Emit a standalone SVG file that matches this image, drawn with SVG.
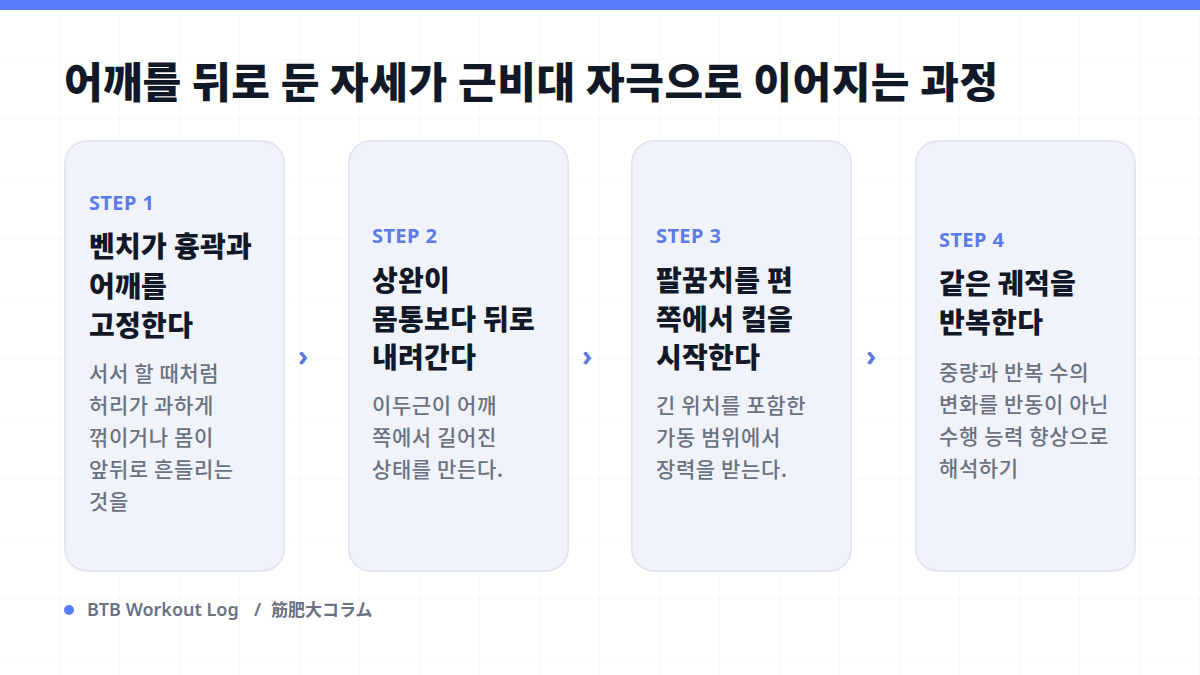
<svg xmlns="http://www.w3.org/2000/svg" width="1200" height="675" viewBox="0 0 1200 675">
<defs>
<pattern id="grid" width="60" height="60" patternUnits="userSpaceOnUse">
<path d="M60 0V60M0 60H60" fill="none" stroke="#f2f3f6" stroke-width="1"/>
</pattern>
<style>
.card{fill:#f1f3fa;stroke:#e2e6f0;stroke-width:2}
.step{font-family:"Noto Sans","Noto Sans CJK KR",sans-serif;font-size:20px;font-weight:700;fill:#5b7be6;letter-spacing:0.4px}
.ttl{font-family:"Noto Sans CJK KR","Noto Sans",sans-serif;font-size:28px;font-weight:800;fill:#111827;letter-spacing:0.3px}
.body{font-family:"Noto Sans CJK KR","Noto Sans",sans-serif;font-size:21px;font-weight:500;fill:#6b7280;letter-spacing:0.6px}
.chev{font-family:"Noto Sans","DejaVu Sans",sans-serif;font-size:28px;font-weight:700;fill:#5b7be6}
.head{font-family:"Noto Sans CJK KR","Noto Sans",sans-serif;font-size:42px;font-weight:900;fill:#111827;letter-spacing:0.6px}
.foot{font-family:"Noto Sans","Noto Sans CJK JP",sans-serif;font-size:18px;font-weight:600;fill:#6b7280}
</style>
</defs>
<rect width="1200" height="675" fill="#ffffff"/>
<rect width="1200" height="675" fill="url(#grid)"/>
<rect x="0" y="0" width="1200" height="10" fill="#5b7cfa"/>
<text class="head" x="64" y="98">어깨를 뒤로 둔 자세가 근비대 자극으로 이어지는 과정</text>

<g id="step1">
<rect class="card" x="65" y="141" width="219" height="430" rx="22"/>
<text class="step" x="89" y="210">STEP 1</text>
<text class="ttl" x="89" y="257">벤치가 흉곽과</text>
<text class="ttl" x="89" y="297">어깨를</text>
<text class="ttl" x="89" y="336">고정한다</text>
<text class="body" x="89" y="381">서서 할 때처럼</text>
<text class="body" x="89" y="413">허리가 과하게</text>
<text class="body" x="89" y="445">꺾이거나 몸이</text>
<text class="body" x="89" y="477">앞뒤로 흔들리는</text>
<text class="body" x="89" y="509">것을</text>
</g>

<g id="step2">
<rect class="card" x="349" y="141" width="219" height="430" rx="22"/>
<text class="step" x="372" y="243">STEP 2</text>
<text class="ttl" x="372" y="291">상완이</text>
<text class="ttl" x="372" y="330">몸통보다 뒤로</text>
<text class="ttl" x="372" y="368">내려간다</text>
<text class="body" x="372" y="413">이두근이 어깨</text>
<text class="body" x="372" y="445">쪽에서 길어진</text>
<text class="body" x="372" y="477">상태를 만든다.</text>
</g>

<g id="step3">
<rect class="card" x="632" y="141" width="219" height="430" rx="22"/>
<text class="step" x="656" y="243">STEP 3</text>
<text class="ttl" x="656" y="291">팔꿈치를 편</text>
<text class="ttl" x="656" y="330">쪽에서 컬을</text>
<text class="ttl" x="656" y="368">시작한다</text>
<text class="body" x="656" y="413">긴 위치를 포함한</text>
<text class="body" x="656" y="445">가동 범위에서</text>
<text class="body" x="656" y="477">장력을 받는다.</text>
</g>

<g id="step4">
<rect class="card" x="916" y="141" width="219" height="430" rx="22"/>
<text class="step" x="939" y="247">STEP 4</text>
<text class="ttl" x="939" y="294">같은 궤적을</text>
<text class="ttl" x="939" y="333">반복한다</text>
<text class="body" x="939" y="380">중량과 반복 수의</text>
<text class="body" x="939" y="412">변화를 반동이 아닌</text>
<text class="body" x="939" y="444">수행 능력 향상으로</text>
<text class="body" x="939" y="476">해석하기</text>
</g>

<g id="connectors">
<text class="chev" x="303" y="366" text-anchor="middle">›</text>
<text class="chev" x="587" y="366" text-anchor="middle">›</text>
<text class="chev" x="871" y="366" text-anchor="middle">›</text>
</g>

<g id="footer">
<circle cx="69" cy="610" r="5" fill="#5b7cfa"/>
<text class="foot" y="616"><tspan x="87">BTB Workout Log</tspan><tspan x="254">/</tspan><tspan x="271" font-size="17">筋肥大コラム</tspan></text>
</g>
</svg>
